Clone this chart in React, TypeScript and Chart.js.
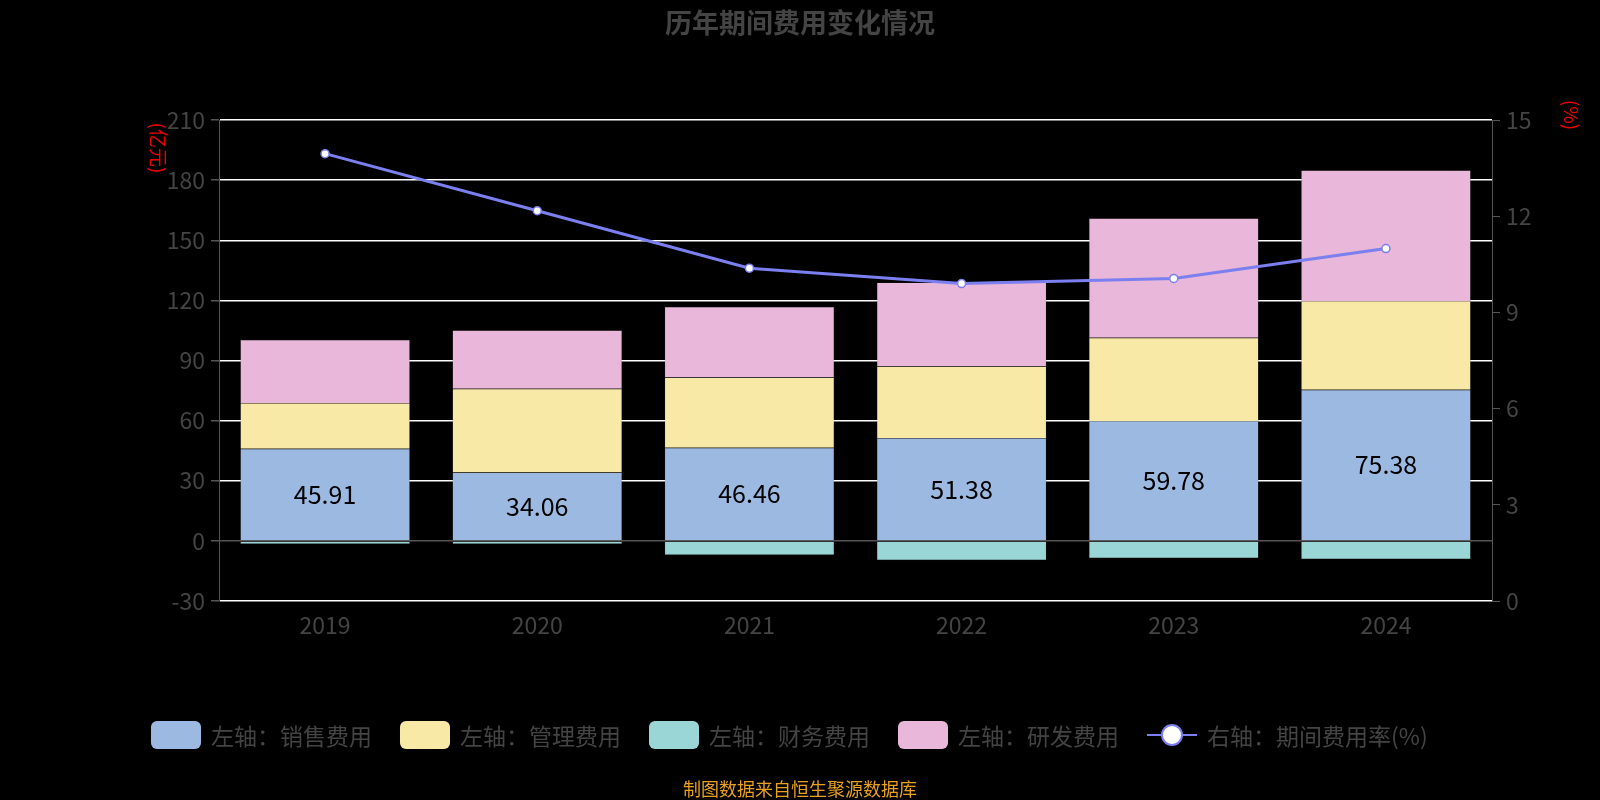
import React, { useEffect, useRef } from "react";
import { Chart, registerables } from "chart.js";
Chart.register(...registerables);

const years = ["2019", "2020", "2021", "2022", "2023", "2024"];
const sales = [45.91, 34.06, 46.46, 51.38, 59.78, 75.38];
const admin = [22.9, 41.9, 35.1, 35.7, 41.6, 44.3];
const finance = [-1.5, -1.5, -7.1, -9.7, -8.7, -9.2];
const rnd = [31.5, 29.1, 35.2, 41.8, 59.6, 65.3];
const rate = [13.95, 12.17, 10.38, 9.9, 10.06, 10.99];
const leftTicks = [-30, 0, 30, 60, 90, 120, 150, 180, 210];
const rightTicks = [0, 3, 6, 9, 12, 15];

const colors = ["#9cb9e2", "#f9e9a7", "#9bd6d6", "#e8b7d9", "#7b7ff0"];
const legendLabels = ["左轴：销售费用", "左轴：管理费用", "左轴：财务费用", "左轴：研发费用", "右轴：期间费用率(%)"];
const FONT = "'Noto Sans CJK SC', 'Noto Sans', sans-serif";

const decor = {
  id: "decor",
  afterDraw(chart: any) {
    const ctx = chart.ctx;
    ctx.save();
    ctx.fillStyle = "#444";
    ctx.font = `bold 27px ${FONT}`;
    ctx.textAlign = "center";
    ctx.textBaseline = "middle";
    ctx.fillText("历年期间费用变化情况", 800, 23);
    const meta = chart.getDatasetMeta(0);
    ctx.fillStyle = "#000";
    ctx.font = `25px ${FONT}`;
    meta.data.forEach((b: any, i: number) => {
      ctx.fillText(sales[i].toFixed(2), b.x, (b.y + b.base) / 2);
    });
    ctx.fillStyle = "#e00";
    ctx.font = `19px ${FONT}`;
    ctx.save();
    ctx.translate(158, 148);
    ctx.rotate(Math.PI / 2);
    ctx.fillText("(亿元)", 0, 0);
    ctx.restore();
    ctx.save();
    ctx.translate(1571, 115);
    ctx.rotate(Math.PI / 2);
    ctx.fillText("(%)", 0, 0);
    ctx.restore();
    let x = 151;
    const y = 735;
    ctx.font = `23px ${FONT}`;
    ctx.textAlign = "left";
    legendLabels.forEach((t, i) => {
      if (i < 4) {
        ctx.fillStyle = colors[i];
        ctx.beginPath();
        ctx.roundRect(x, y - 14, 50, 28, 6);
        ctx.fill();
      } else {
        ctx.strokeStyle = colors[4];
        ctx.lineWidth = 2;
        ctx.beginPath();
        ctx.moveTo(x, y);
        ctx.lineTo(x + 50, y);
        ctx.stroke();
        ctx.fillStyle = "#fff";
        ctx.beginPath();
        ctx.arc(x + 25, y, 10, 0, Math.PI * 2);
        ctx.fill();
        ctx.stroke();
      }
      ctx.fillStyle = "#444";
      ctx.fillText(t, x + 60, y + 1);
      x += 60 + ctx.measureText(t).width + 28;
    });
    ctx.fillStyle = "#e8a020";
    ctx.font = `18px ${FONT}`;
    ctx.textAlign = "center";
    ctx.fillText("制图数据来自恒生聚源数据库", 800, 789);
    ctx.restore();
  },
};

export default function App() {
  const ref = useRef<HTMLCanvasElement>(null);
  useEffect(() => {
    document.body.style.margin = "0";
    document.body.style.background = "#000";
    const bar = (label: string, data: number[], c: string) => ({
      type: "bar" as const, label, data, backgroundColor: c, borderColor: "rgba(80,80,80,0.5)", borderWidth: 0.5,
      stack: "s", yAxisID: "y", barPercentage: 0.8, categoryPercentage: 1, order: 2,
    });
    const chart = new Chart(ref.current!, {
      data: {
        labels: years,
        datasets: [
          bar("销售费用", sales, colors[0]),
          bar("管理费用", admin, colors[1]),
          bar("财务费用", finance, colors[2]),
          bar("研发费用", rnd, colors[3]),
          {
            type: "line", label: "期间费用率", data: rate, yAxisID: "y1", borderColor: colors[4], borderWidth: 3,
            pointBackgroundColor: "#fff", pointBorderColor: colors[4], pointRadius: 4, pointBorderWidth: 1.5, order: 1,
          } as any,
        ],
      },
      options: {
        animation: false, responsive: false,
        layout: { padding: { top: 120, bottom: 139, left: 0, right: 0 } },
        plugins: { legend: { display: false }, tooltip: { enabled: false } },
        scales: {
          x: {
            stacked: true,
            grid: { display: false },
            border: { display: false },
            ticks: { color: "#444", font: { size: 23, family: FONT }, padding: 2 },
            afterFit: (s: any) => { s.height = 60; },
          },
          y: {
            stacked: true, min: -30, max: 210,
            afterBuildTicks: (s: any) => { s.ticks = leftTicks.map((v) => ({ value: v })); },
            grid: { color: (c: any) => (c.tick && c.tick.value === 0 ? "#555" : "#fff"), lineWidth: 1.5, tickLength: 8, tickColor: "#555" },
            border: { color: "#555" },
            ticks: { color: "#444", font: { size: 23, family: FONT }, padding: 6 },
            afterFit: (s: any) => { s.width = 219; },
          },
          y1: {
            position: "right", min: 0, max: 15,
            afterBuildTicks: (s: any) => { s.ticks = rightTicks.map((v) => ({ value: v })); },
            grid: { drawOnChartArea: false, tickLength: 8, tickColor: "#555" },
            border: { color: "#555" },
            ticks: { color: "#444", font: { size: 23, family: FONT }, padding: 6 },
            afterFit: (s: any) => { s.width = 108; },
          },
        },
      },
      plugins: [decor],
    });
    return () => chart.destroy();
  }, []);
  return <canvas ref={ref} width={1600} height={800} style={{ display: "block", background: "#000" }} />;
}
